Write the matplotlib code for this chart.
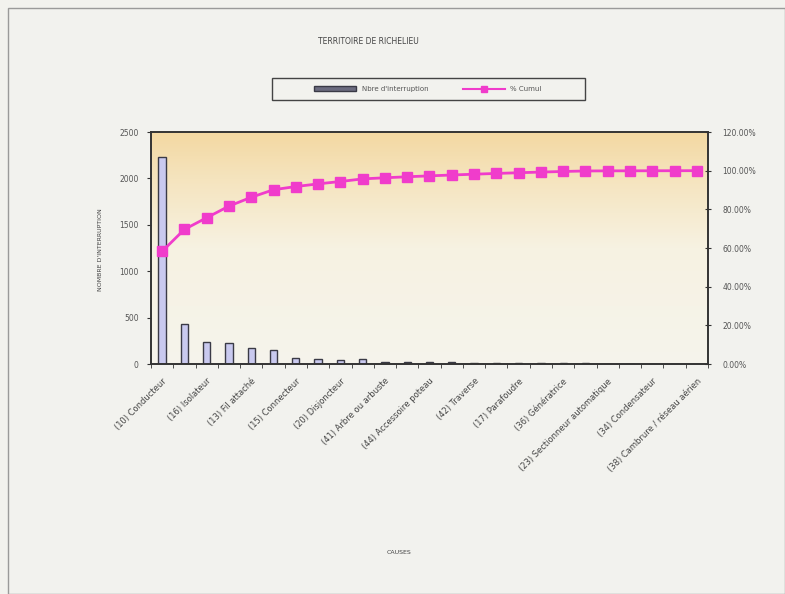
import numpy as np
import matplotlib
matplotlib.use("Agg")
import matplotlib.pyplot as plt
from matplotlib.patches import Rectangle, Patch
from matplotlib.lines import Line2D
from matplotlib.colors import LinearSegmentedColormap
from matplotlib.ticker import FuncFormatter, FixedLocator

# Causes (only every other label is printed on the axis)
causes = [
    "(10) Conducteur", "", "(16) Isolateur", "", "(13) Fil attaché", "",
    "(15) Connecteur", "", "(20) Disjoncteur", "", "(41) Arbre ou arbuste", "",
    "(44) Accessoire poteau", "", "(42) Traverse", "", "(17) Parafoudre", "",
    "(36) Génératrice", "", "(23) Sectionneur automatique", "",
    "(34) Condensateur", "", "(38) Cambrure / réseau aérien",
]
interruptions = [2235, 435, 232, 230, 175, 150, 63, 53, 47, 52,
                 22, 20, 18, 17, 16, 15, 14, 13, 12, 10, 2, 1, 1, 1, 1]
left_ticks = [0, 500, 1000, 1500, 2000, 2500]
right_ticks = [0, 20, 40, 60, 80, 100, 120]

counts = np.array(interruptions, dtype=float)
cum_pct = np.cumsum(counts) / counts.sum() * 100
x = np.arange(len(counts))

W, H = 785, 594
fig = plt.figure(figsize=(W / 100, H / 100), dpi=100)
fig.patch.set_facecolor("#f2f2ee")

# chart frame
fig.add_artist(Rectangle((8 / W, 0), 1 - 8 / W, 1 - 8 / H, transform=fig.transFigure,
                         fill=False, edgecolor="#9a9a9a", linewidth=1.0))

ax = fig.add_axes([151 / W, 1 - 364 / H, (708 - 151) / W, (364 - 132) / H])
ax.set_xlim(-0.5, len(counts) - 0.5)
ax.set_ylim(0, 2500)

# plot-area gradient
cmap = LinearSegmentedColormap.from_list(
    "bg", [(0.0, "#f5f4ec"), (0.5, "#f7f2e2"), (0.8, "#f5e4be"), (1.0, "#f3d8a2")])
grad = np.linspace(0, 1, 256).reshape(-1, 1)
ax.imshow(grad, aspect="auto", cmap=cmap, origin="lower",
          extent=[-0.5, len(counts) - 0.5, 0, 2500], zorder=0)

ax.bar(x, counts, width=0.33, color="#c9c9ef", edgecolor="#3a3a46",
       linewidth=1.0, zorder=2)

ax.set_yticks(left_ticks)
ax.tick_params(axis="y", direction="out", length=3, labelsize=5.5,
               labelcolor="#555555", color="#333333", pad=6)
ax.xaxis.set_major_locator(FixedLocator(x))
ax.set_xticklabels(causes, rotation=45, ha="right", va="top",
                   rotation_mode="anchor", fontsize=6, color="#444444")
ax.tick_params(axis="x", length=0, pad=9)
ax.xaxis.set_minor_locator(FixedLocator(np.arange(-0.5, len(counts), 1.0)))
ax.tick_params(axis="x", which="minor", direction="out", length=3, color="#333333")
for s in ax.spines.values():
    s.set_color("#333333")
    s.set_linewidth(1.2)

ax2 = ax.twinx()
ax2.set_ylim(0, 120)
ax2.plot(x, cum_pct, color="#f03ccb", linewidth=2, marker="s",
         markersize=7, markerfacecolor="#f03ccb", markeredgecolor="#f03ccb", zorder=3)
ax2.set_yticks(right_ticks)
ax2.yaxis.set_major_formatter(FuncFormatter(lambda v, p: f"{v:.2f}%"))
ax2.tick_params(axis="y", direction="inout", length=5, labelsize=5.5,
                labelcolor="#555555", color="#333333", pad=8)
for s in ax2.spines.values():
    s.set_color("#333333")
    s.set_linewidth(1.2)

fig.text(368 / W, 1 - 41 / H, "TERRITOIRE DE RICHELIEU", ha="center", va="center",
         fontsize=5.5, color="#444444")
fig.text(101 / W, 1 - 250 / H, "NOMBRE D'INTERRUPTION", rotation=90,
         ha="center", va="center", fontsize=4.5, color="#444444")
fig.text(399 / W, 1 - 553 / H, "CAUSES", ha="center", va="center",
         fontsize=4.5, color="#444444")

# legend box
fig.add_artist(Rectangle((272 / W, 1 - 100 / H), 313 / W, 22 / H,
                         transform=fig.transFigure, facecolor="#f2f2ee",
                         edgecolor="#444444", linewidth=1.0, zorder=4))
handles = [Patch(facecolor="#6c6c80", edgecolor="#3a3a46"),
           Line2D([0], [0], color="#f03ccb", linewidth=1.5, marker="s",
                  markersize=4)]
leg = fig.legend(handles, ["Nbre d'interruption", "% Cumul"], ncol=2,
                 loc="center", bbox_to_anchor=(428 / W, 1 - 89 / H),
                 fontsize=5, frameon=False,
                 handlelength=6, handleheight=0.6, columnspacing=5,
                 handletextpad=0.8, labelcolor="#555555")
leg.set_zorder(5)

fig.savefig("out.png", dpi=100, facecolor=fig.get_facecolor())
